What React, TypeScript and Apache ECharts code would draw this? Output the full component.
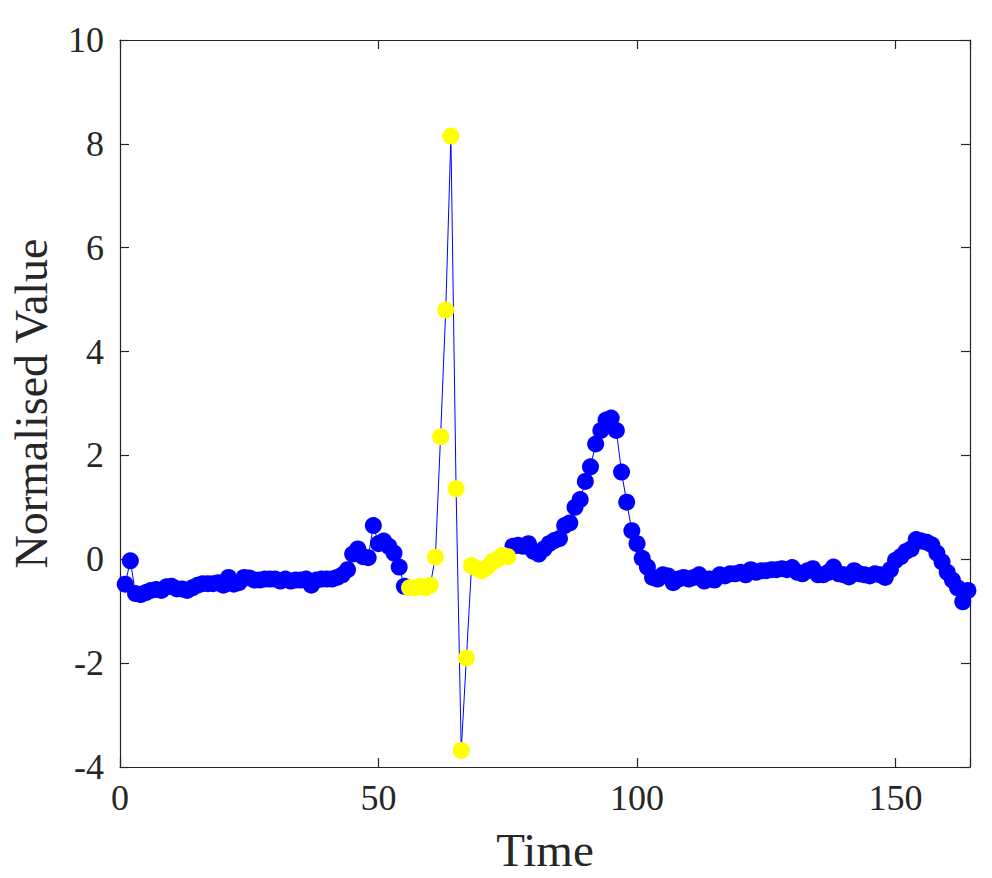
import React, { useEffect, useRef } from "react";
import * as echarts from "echarts";

// Sample values for time steps 1..164
const values: number[] = [
  -0.48, -0.03, -0.66, -0.68, -0.64, -0.6, -0.58, -0.6, -0.53, -0.52,
  -0.57, -0.57, -0.6, -0.55, -0.5, -0.47, -0.47, -0.47, -0.45, -0.5,
  -0.35, -0.48, -0.45, -0.35, -0.36, -0.4, -0.4, -0.38, -0.38, -0.38,
  -0.42, -0.38, -0.42, -0.4, -0.4, -0.38, -0.5, -0.4, -0.38, -0.38,
  -0.38, -0.35, -0.3, -0.2, 0.1, 0.2, 0.05, 0.03, 0.65, 0.3,
  0.35, 0.25, 0.12, -0.15, -0.52, -0.55, -0.55, -0.52, -0.55, -0.5,
  0.04, 2.36, 4.8, 8.15, 1.36, -3.68, -1.9, -0.12, -0.18, -0.22,
  -0.15, -0.05, 0.0, 0.08, 0.05, 0.25, 0.27, 0.25, 0.3, 0.15,
  0.1, 0.2, 0.3, 0.36, 0.4, 0.65, 0.7, 1.0, 1.15, 1.5,
  1.78, 2.22, 2.48, 2.68, 2.72, 2.48, 1.68, 1.1, 0.55, 0.3,
  0.02, -0.15, -0.35, -0.38, -0.3, -0.32, -0.45, -0.38, -0.35, -0.38,
  -0.35, -0.3, -0.42, -0.38, -0.4, -0.3, -0.32, -0.28, -0.28, -0.25,
  -0.3, -0.2, -0.25, -0.22, -0.22, -0.2, -0.2, -0.18, -0.2, -0.16,
  -0.25, -0.28, -0.22, -0.18, -0.3, -0.3, -0.25, -0.15, -0.28, -0.3,
  -0.34, -0.22, -0.28, -0.3, -0.32, -0.28, -0.3, -0.35, -0.2, -0.02,
  0.05, 0.15, 0.2, 0.38, 0.35, 0.33, 0.28, 0.12, -0.05, -0.25,
  -0.4, -0.55, -0.82, -0.6,
];

// Time steps flagged as anomalous (inclusive range)
const anomalyStart = 56;
const anomalyEnd = 75;

const xTicks = [0, 50, 100, 150];
const yTicks = [-4, -2, 0, 2, 4, 6, 8, 10];

const FONT = "'Liberation Serif', 'Times New Roman', serif";
const INK = "#262626";

export default function App() {
  const ref = useRef<HTMLDivElement>(null);

  useEffect(() => {
    if (!ref.current) return;
    const chart = echarts.init(ref.current, undefined, { renderer: "svg" });

    const all = values.map((v, i) => [i + 1, v]);
    const normal = all.filter(([t]) => t < anomalyStart || t > anomalyEnd);
    const flagged = all.filter(([t]) => t >= anomalyStart && t <= anomalyEnd);

    const xMin = xTicks[0];
    const xMax = 164.4;
    const yMin = yTicks[0];
    const yMax = yTicks[yTicks.length - 1];

    const tickLabel = (v: number, list: number[]) =>
      list.includes(Math.round(v * 1000) / 1000) ? String(v) : "";

    const baseAxis = {
      axisLine: { show: true, onZero: false, lineStyle: { color: INK, width: 1.2 } },
      axisTick: { show: true, inside: true, length: 9, lineStyle: { color: INK, width: 1.2 } },
      splitLine: { show: false },
    };

    chart.setOption({
      animation: false,
      backgroundColor: "#ffffff",
      grid: { left: 117, top: 40, right: 22, bottom: 109 },
      xAxis: [
        {
          type: "value",
          position: "bottom",
          min: xMin,
          max: xMax,
          interval: 50,
          ...baseAxis,
          axisLabel: {
            show: true,
            fontFamily: FONT,
            fontSize: 36,
            color: INK,
            margin: 13,
            formatter: (v: number) => tickLabel(v, xTicks),
          },
          name: "Time",
          nameLocation: "middle",
          nameGap: 59,
          nameTextStyle: { fontFamily: FONT, fontSize: 47, color: INK },
        },
        {
          type: "value",
          position: "top",
          min: xMin,
          max: xMax,
          interval: 50,
          ...baseAxis,
          axisLabel: { show: false },
        },
      ],
      yAxis: [
        {
          type: "value",
          position: "left",
          min: yMin,
          max: yMax,
          interval: 2,
          ...baseAxis,
          axisLabel: {
            show: true,
            fontFamily: FONT,
            fontSize: 36,
            color: INK,
            margin: 16,
            formatter: (v: number) => tickLabel(v, yTicks),
          },
          name: "Normalised Value",
          nameLocation: "middle",
          nameGap: 66,
          nameTextStyle: { fontFamily: FONT, fontSize: 46, color: INK },
        },
        {
          type: "value",
          position: "right",
          min: yMin,
          max: yMax,
          interval: 2,
          ...baseAxis,
          axisLabel: { show: false },
        },
      ],
      series: [
        {
          type: "line",
          data: all,
          showSymbol: false,
          symbol: "none",
          lineStyle: { color: "#0000ff", width: 1 },
          z: 1,
        },
        {
          type: "scatter",
          data: normal,
          symbol: "circle",
          symbolSize: 17,
          itemStyle: { color: "#0000ff", opacity: 1 },
          z: 2,
        },
        {
          type: "scatter",
          data: flagged,
          symbol: "circle",
          symbolSize: 17,
          itemStyle: { color: "#ffff00", opacity: 1 },
          z: 3,
        },
      ],
    });

    return () => chart.dispose();
  }, []);

  return (
    <div
      ref={ref}
      style={{ position: "fixed", left: 0, top: 0, width: 992, height: 878 }}
    />
  );
}
